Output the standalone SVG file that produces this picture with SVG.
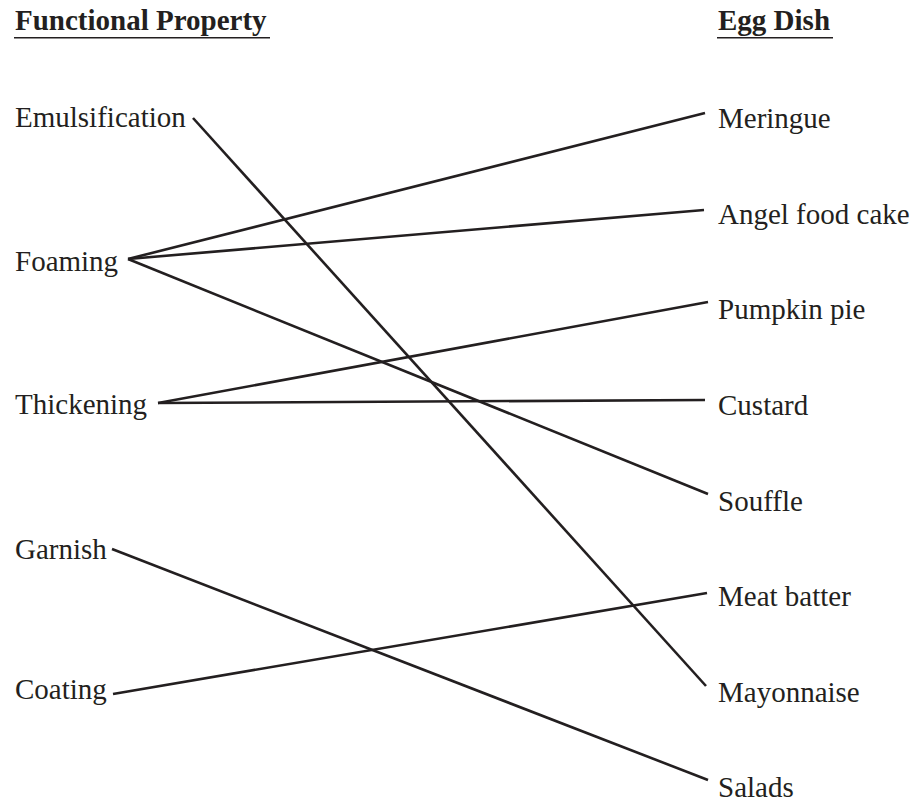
<svg xmlns="http://www.w3.org/2000/svg" width="916" height="805" viewBox="0 0 916 805">
<style>
text{font-family:"Liberation Serif","Times New Roman",serif;font-size:29px;fill:#231f20}
.h{font-weight:bold}
.ul{stroke:#231f20;stroke-width:1.6}
.c line{stroke:#231f20;stroke-width:2.6;stroke-linecap:butt}
</style>
<rect width="916" height="805" fill="#fff"/>
<g id="header-left"><text class="h" x="15" y="30">Functional Property</text><line class="ul" x1="14" y1="37.7" x2="270" y2="37.7"/></g>
<g id="header-right"><text class="h" x="718" y="30">Egg Dish</text><line class="ul" x1="717" y1="37.7" x2="833" y2="37.7"/></g>
<g id="emulsification"><text x="15" y="127">Emulsification</text></g>
<g id="foaming"><text x="15" y="271">Foaming</text></g>
<g id="thickening"><text x="15" y="414">Thickening</text></g>
<g id="garnish"><text x="15" y="559">Garnish</text></g>
<g id="coating"><text x="15" y="699">Coating</text></g>
<g id="meringue"><text x="718" y="128">Meringue</text></g>
<g id="angel-food-cake"><text x="718" y="223.5">Angel food cake</text></g>
<g id="pumpkin-pie"><text x="718" y="319">Pumpkin pie</text></g>
<g id="custard"><text x="718" y="415">Custard</text></g>
<g id="souffle"><text x="718" y="510.5">Souffle</text></g>
<g id="meat-batter"><text x="718" y="606">Meat batter</text></g>
<g id="mayonnaise"><text x="718" y="701.5">Mayonnaise</text></g>
<g id="salads"><text x="718" y="797">Salads</text></g>
<g id="connectors" class="c">
<line x1="193" y1="118" x2="706" y2="686"/>
<line x1="128" y1="259" x2="705" y2="113"/>
<line x1="128" y1="259" x2="704" y2="210"/>
<line x1="128" y1="259" x2="708" y2="494"/>
<line x1="158" y1="403" x2="708" y2="302"/>
<line x1="158" y1="403" x2="705" y2="400"/>
<line x1="112" y1="549" x2="708" y2="780"/>
<line x1="113" y1="694" x2="707" y2="593"/>
</g>
</svg>
